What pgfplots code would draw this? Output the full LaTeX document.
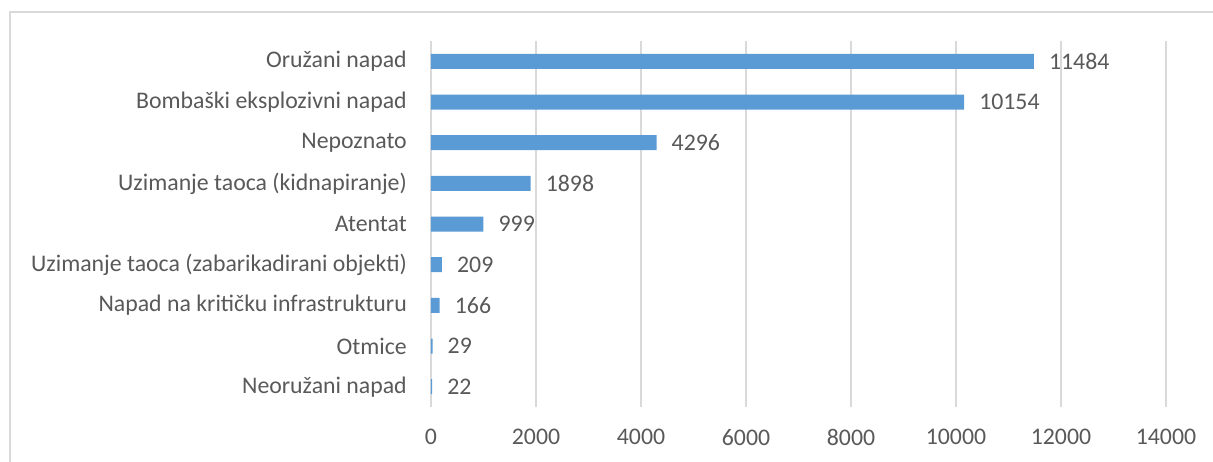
\documentclass[border=0pt]{standalone}
\usepackage{fontspec}
\setmainfont{Carlito}
\usepackage{pgfplots}
\pgfplotsset{compat=1.18}
\definecolor{barblue}{HTML}{5B9BD5}
\definecolor{gridgray}{HTML}{D9D9D9}
\definecolor{txt}{HTML}{595959}
\pgfplotsset{/pgf/number format/.cd, 1000 sep={}, assume math mode=true}
\begin{document}
\begin{tikzpicture}[x=1pt,y=1pt,font=\fontsize{23.8}{28}\selectfont]
\useasboundingbox (-431,-54) rectangle (782,407);
\draw[gridgray, line width=1.5pt] (-421,-70) -- (-421,395) -- (800,395);
\begin{axis}[
  at={(0,0)}, anchor=south west,
  scale only axis, width=735pt, height=366pt,
  xmin=0, xmax=14000, ymin=-0.5, ymax=8.5,
  y dir=reverse,
  xbar, bar width=15pt,
  xtick={0,2000,...,14000},
  scaled x ticks=false,
  ytick={0,...,8},
  yticklabels={Oružani napad,Bombaški eksplozivni napad,Nepoznato,Uzimanje taoca (kidnapiranje),Atentat,Uzimanje taoca (zabarikadirani objekti),Napad na kritičku infrastrukturu,Otmice,Neoružani napad},
  xmajorgrids, grid style={gridgray, line width=1.5pt},
  axis line style={draw=none},
  major tick length=0pt,
  tick style={draw=none},
  ticklabel style={text=txt, font=\fontsize{23.8}{28}\selectfont},
  yticklabel style={inner sep=0pt, xshift=-24pt},
  xticklabel style={inner sep=0pt, yshift=-22pt},
  nodes near coords,
  every node near coord/.append style={text=txt, font=\fontsize{23.8}{28}\selectfont, inner sep=0pt, xshift=15pt, anchor=west},
]
\addplot[fill=barblue, draw=none] coordinates {
(11484,0) (10154,1) (4296,2) (1898,3) (999,4) (209,5) (166,6) (29,7) (22,8)};
\end{axis}
\end{tikzpicture}
\end{document}
